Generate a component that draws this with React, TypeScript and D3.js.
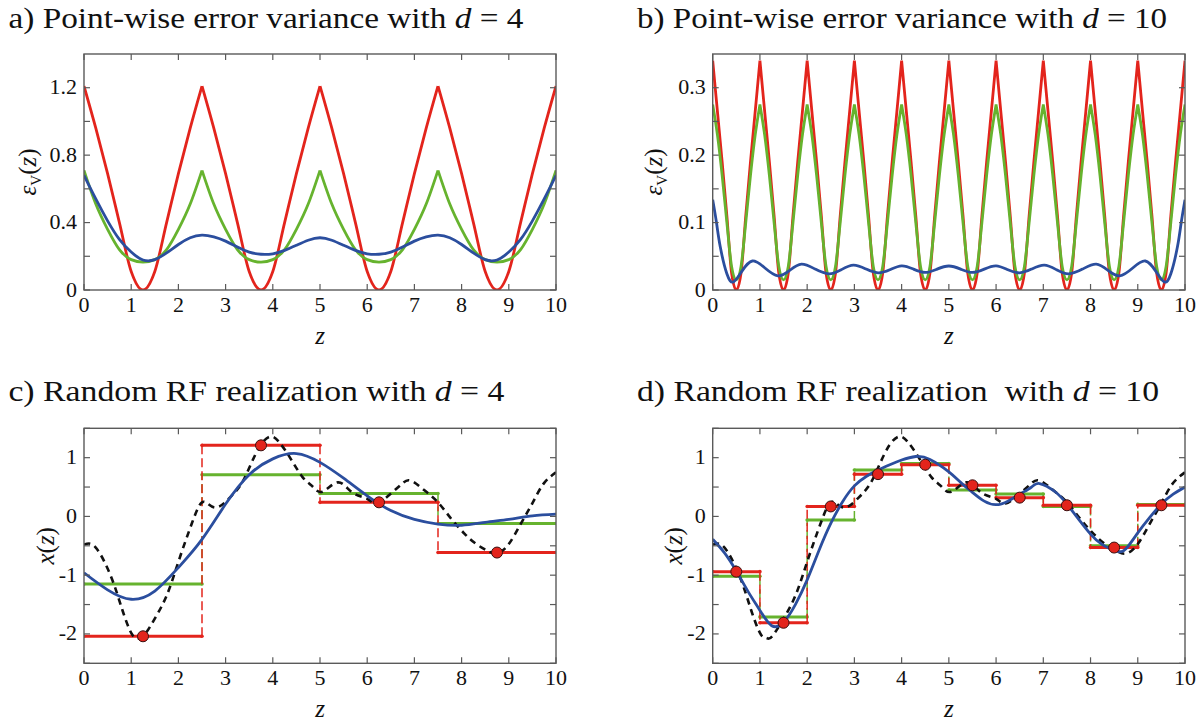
import React from "react";
import * as d3 from "d3";

// ---------------- shared ----------------
const zTicks = [0, 1, 2, 3, 4, 5, 6, 7, 8, 9, 10];
const zTickText = ["0", "1", "2", "3", "4", "5", "6", "7", "8", "9", "10"];

// ---------------- panel a : variance, d = 4 ----------------
const yTicksA = [0, 0.2, 0.4, 0.6, 0.8, 1.0, 1.2];
const yLabelValsA = [0, 0.4, 0.8, 1.2];
const yLabelTextA = ["0", "0.4", "0.8", "1.2"];
const cellEdgesA = [0, 2.5, 5, 7.5, 10];
const sampleStepA = 0.25;
const redA = [
  1.21, 0.96, 0.69, 0.4, 0.11, 0.0, 0.11, 0.4, 0.69, 0.96,
  1.21, 0.96, 0.69, 0.4, 0.11, 0.0, 0.11, 0.4, 0.69, 0.96,
  1.21, 0.96, 0.69, 0.4, 0.11, 0.0, 0.11, 0.4, 0.69, 0.96,
  1.21, 0.96, 0.69, 0.4, 0.11, 0.0, 0.11, 0.4, 0.69, 0.96,
  1.21,
];
const greenA = [
  0.71, 0.51, 0.36, 0.24, 0.18, 0.165, 0.18, 0.24, 0.36, 0.51,
  0.71, 0.51, 0.36, 0.24, 0.18, 0.165, 0.18, 0.24, 0.36, 0.51,
  0.71, 0.51, 0.36, 0.24, 0.18, 0.165, 0.18, 0.24, 0.36, 0.51,
  0.71, 0.51, 0.36, 0.24, 0.18, 0.165, 0.18, 0.24, 0.36, 0.51,
  0.71,
];
const blueA = [
  0.68, 0.54, 0.41, 0.3, 0.225, 0.178, 0.18, 0.22, 0.27, 0.31,
  0.325, 0.315, 0.29, 0.255, 0.225, 0.212, 0.215, 0.235, 0.265, 0.295,
  0.31, 0.295, 0.265, 0.235, 0.215, 0.212, 0.225, 0.255, 0.29, 0.315,
  0.325, 0.31, 0.27, 0.22, 0.18, 0.178, 0.225, 0.3, 0.41, 0.54,
  0.68,
];

// ---------------- panel b : variance, d = 10 ----------------
const yTicksB = [0, 0.05, 0.1, 0.15, 0.2, 0.25, 0.3];
const yLabelValsB = [0, 0.1, 0.2, 0.3];
const yLabelTextB = ["0", "0.1", "0.2", "0.3"];
const cellEdgesB = [0, 1, 2, 3, 4, 5, 6, 7, 8, 9, 10];
const sampleStepB = 0.1;
const redB = [
  0.34, 0.265, 0.19, 0.11, 0.025, 0, 0.025, 0.11, 0.19, 0.265,
  0.34, 0.265, 0.19, 0.11, 0.025, 0, 0.025, 0.11, 0.19, 0.265,
  0.34, 0.265, 0.19, 0.11, 0.025, 0, 0.025, 0.11, 0.19, 0.265,
  0.34, 0.265, 0.19, 0.11, 0.025, 0, 0.025, 0.11, 0.19, 0.265,
  0.34, 0.265, 0.19, 0.11, 0.025, 0, 0.025, 0.11, 0.19, 0.265,
  0.34, 0.265, 0.19, 0.11, 0.025, 0, 0.025, 0.11, 0.19, 0.265,
  0.34, 0.265, 0.19, 0.11, 0.025, 0, 0.025, 0.11, 0.19, 0.265,
  0.34, 0.265, 0.19, 0.11, 0.025, 0, 0.025, 0.11, 0.19, 0.265,
  0.34, 0.265, 0.19, 0.11, 0.025, 0, 0.025, 0.11, 0.19, 0.265,
  0.34, 0.265, 0.19, 0.11, 0.025, 0, 0.025, 0.11, 0.19, 0.265,
  0.34,
];
const greenB = [
  0.275, 0.23, 0.17, 0.1, 0.035, 0.015, 0.035, 0.1, 0.17, 0.23,
  0.275, 0.23, 0.17, 0.1, 0.035, 0.015, 0.035, 0.1, 0.17, 0.23,
  0.275, 0.23, 0.17, 0.1, 0.035, 0.015, 0.035, 0.1, 0.17, 0.23,
  0.275, 0.23, 0.17, 0.1, 0.035, 0.015, 0.035, 0.1, 0.17, 0.23,
  0.275, 0.23, 0.17, 0.1, 0.035, 0.015, 0.035, 0.1, 0.17, 0.23,
  0.275, 0.23, 0.17, 0.1, 0.035, 0.015, 0.035, 0.1, 0.17, 0.23,
  0.275, 0.23, 0.17, 0.1, 0.035, 0.015, 0.035, 0.1, 0.17, 0.23,
  0.275, 0.23, 0.17, 0.1, 0.035, 0.015, 0.035, 0.1, 0.17, 0.23,
  0.275, 0.23, 0.17, 0.1, 0.035, 0.015, 0.035, 0.1, 0.17, 0.23,
  0.275, 0.23, 0.17, 0.1, 0.035, 0.015, 0.035, 0.1, 0.17, 0.23,
  0.275,
];
const blueBZ = [
  0, 0.08, 0.16, 0.3, 0.44, 0.62, 0.84, 1.1, 1.38, 1.63,
  1.88, 2.17, 2.46, 2.72, 2.98, 3.25, 3.5, 3.75, 4.0, 4.25,
  4.5, 4.75, 5.0, 5.25, 5.5, 5.75, 6.0, 6.25, 6.5, 6.75,
  7.02, 7.28, 7.54, 7.83, 8.12, 8.37, 8.62, 8.9, 9.16, 9.38,
  9.56, 9.7, 9.84, 9.92, 10,
];
const blueBV = [
  0.134, 0.1, 0.064, 0.024, 0.012, 0.028, 0.043, 0.033, 0.021, 0.029,
  0.0385, 0.031, 0.024, 0.03, 0.0368, 0.031, 0.0255, 0.03, 0.0358, 0.031,
  0.026, 0.031, 0.0356, 0.031, 0.026, 0.031, 0.0358, 0.03, 0.0255, 0.031,
  0.0368, 0.03, 0.024, 0.031, 0.0385, 0.029, 0.021, 0.033, 0.043, 0.028,
  0.012, 0.024, 0.064, 0.1, 0.134,
];

// ---------------- panels c, d : realization ----------------
const yTicksC = [-2.5, -2, -1.5, -1, -0.5, 0, 0.5, 1, 1.5];
const yLabelValsC = [-2, -1, 0, 1];
const yLabelTextC = ["-2", "-1", "0", "1"];

// true random field (black dashed), shared by c and d
const trueZ = [
  0, 0.25, 0.58, 0.82, 1.02, 1.14, 1.26, 1.55, 1.79, 2.03,
  2.28, 2.44, 2.58, 2.8, 3.09, 3.33, 3.53, 3.74, 3.95, 4.14,
  4.38, 4.63, 4.83, 5.05, 5.38, 5.68, 6.0, 6.2, 6.49, 6.73,
  6.92, 7.22, 7.5, 7.79, 8.07, 8.31, 8.56, 8.76, 9.0, 9.25,
  9.49, 9.73, 10,
];
const trueX = [
  -0.48, -0.53, -1.04, -1.61, -2.01, -2.07, -2.04, -1.67, -1.27, -0.7,
  -0.13, 0.18, 0.24, 0.15, 0.32, 0.55, 0.88, 1.21, 1.36, 1.26,
  0.98, 0.67, 0.52, 0.42, 0.58, 0.41, 0.3, 0.22, 0.38, 0.55,
  0.61, 0.44, 0.24, -0.05, -0.3, -0.47, -0.59, -0.63, -0.47, -0.13,
  0.21, 0.55, 0.75,
];

// panel c (d = 4)
const cellEdgesC = [0, 2.5, 5, 7.5, 10];
const redC = [-2.04, 1.21, 0.24, -0.615];
const greenC = [-1.15, 0.71, 0.39, -0.12];
const blueCZ = [0, 0.5, 1, 1.5, 2, 2.5, 3, 3.5, 4, 4.5, 5, 5.5, 6, 6.5, 7, 7.5, 8, 8.5, 9, 9.5, 10];
const blueCV = [
  -0.96, -1.25, -1.41, -1.27, -0.87, -0.39, 0.21, 0.71, 0.98, 1.07,
  0.92, 0.65, 0.35, 0.1, -0.05, -0.13, -0.15, -0.1, -0.05, 0.01, 0.04,
];

// panel d (d = 10)
const cellEdgesD = [0, 1, 2, 3, 4, 5, 6, 7, 8, 9, 10];
const redD = [-0.94, -1.81, 0.17, 0.72, 0.88, 0.53, 0.32, 0.19, -0.53, 0.19];
const greenD = [-1.02, -1.71, -0.06, 0.79, 0.9, 0.45, 0.38, 0.17, -0.5, 0.205];
const blueDZ = [
  0, 0.25, 0.5, 0.75, 1.0, 1.25, 1.5, 1.75, 2.0, 2.25,
  2.5, 2.75, 3.0, 3.25, 3.5, 3.75, 4.0, 4.3, 4.6, 5.0,
  5.25, 5.5, 5.75, 6.0, 6.25, 6.5, 6.75, 6.92, 7.25, 7.5,
  7.75, 8.0, 8.25, 8.55, 8.75, 9.0, 9.25, 9.5, 9.75, 10,
];
const blueDV = [
  -0.39, -0.62, -0.93, -1.28, -1.6, -1.86, -1.8, -1.5, -1.08, -0.58,
  -0.12, 0.25, 0.52, 0.68, 0.79, 0.88, 0.96, 1.02, 0.97, 0.76,
  0.58, 0.41, 0.26, 0.2, 0.26, 0.38, 0.5, 0.56, 0.42, 0.21,
  -0.05, -0.3, -0.48, -0.59, -0.55, -0.28, -0.02, 0.21, 0.38, 0.5,
];

// ---------------- styling ----------------
const FONT = '"Liberation Serif", "Times New Roman", serif';
const AXIS = "#5a5a5a";
const RED = "#e3241c";
const GREEN = "#66b32e";
const BLUE = "#2b4e9e";
const TICK = 6;
const TXT: React.CSSProperties = { fontFamily: FONT };

type Scale = d3.ScaleLinear<number, number>;

interface PanelSpec {
  id: string;
  left: number;
  right: number;
  top: number;
  bottom: number;
  yDomain: [number, number];
  yTicks: number[];
  yLabelVals: number[];
  yLabelText: string[];
  yTitleX: number;
  yTitle: "eps" | "x";
  title: React.ReactNode;
  titleX: number;
  titleY: number;
  titleW: number;
}

function zip(zs: number[], vs: number[]): [number, number][] {
  return zs.map((z, i) => [z, vs[i]] as [number, number]);
}

function cellwisePath(values: number[], step: number, edges: number[], x: Scale, y: Scale) {
  const line = d3
    .line<[number, number]>()
    .x((d) => x(d[0]))
    .y((d) => y(d[1]))
    .curve(d3.curveMonotoneX);
  const pts = values.map((v, i) => [i * step, v] as [number, number]);
  let out = "";
  for (let i = 0; i < edges.length - 1; i++) {
    const seg = pts.filter((p) => p[0] >= edges[i] - 1e-6 && p[0] <= edges[i + 1] + 1e-6);
    out += line(seg) || "";
  }
  return out;
}

function smoothPath(zs: number[], vs: number[], x: Scale, y: Scale) {
  return (
    d3
      .line<[number, number]>()
      .x((d) => x(d[0]))
      .y((d) => y(d[1]))
      .curve(d3.curveNatural)(zip(zs, vs)) || ""
  );
}

function Steps({ edges, levels, color, x, y }: { edges: number[]; levels: number[]; color: string; x: Scale; y: Scale }) {
  return (
    <g>
      {levels.slice(1).map((lv, i) => (
        <line
          key={"v" + i}
          x1={x(edges[i + 1])}
          x2={x(edges[i + 1])}
          y1={y(levels[i])}
          y2={y(lv)}
          stroke={color}
          strokeWidth={1.5}
          strokeDasharray="9,4"
        />
      ))}
      {levels.map((lv, i) => (
        <g key={"h" + i}>
          <line x1={x(edges[i])} x2={x(edges[i + 1])} y1={y(lv)} y2={y(lv)} stroke={color} strokeWidth={3} />
          <circle cx={x(edges[i])} cy={y(lv)} r={1.8} fill={color} />
          <circle cx={x(edges[i + 1])} cy={y(lv)} r={1.8} fill={color} />
        </g>
      ))}
    </g>
  );
}

function Panel({ s, children }: { s: PanelSpec; children: (x: Scale, y: Scale) => React.ReactNode }) {
  const x = d3.scaleLinear().domain([0, 10]).range([s.left, s.right]);
  const y = d3.scaleLinear().domain(s.yDomain).range([s.bottom, s.top]);
  const cy = (s.top + s.bottom) / 2;
  return (
    <g>
      <text x={s.titleX} y={s.titleY} style={TXT} fontSize={29} fill="#111" textLength={s.titleW} lengthAdjust="spacingAndGlyphs">
        {s.title}
      </text>
      <defs>
        <clipPath id={"clip-" + s.id}>
          <rect x={s.left} y={s.top} width={s.right - s.left} height={s.bottom - s.top} />
        </clipPath>
      </defs>
      <g clipPath={`url(#clip-${s.id})`}>{children(x, y)}</g>
      <rect x={s.left} y={s.top} width={s.right - s.left} height={s.bottom - s.top} fill="none" stroke={AXIS} strokeWidth={1.4} />
      {zTicks.map((t, i) => (
        <g key={"xt" + i}>
          <line x1={x(t)} x2={x(t)} y1={s.bottom} y2={s.bottom - TICK} stroke={AXIS} strokeWidth={1.2} />
          <line x1={x(t)} x2={x(t)} y1={s.top} y2={s.top + TICK} stroke={AXIS} strokeWidth={1.2} />
          <text x={x(t)} y={s.bottom + 21.5} textAnchor="middle" style={TXT} fontSize={22} fill="#111">
            {zTickText[i]}
          </text>
        </g>
      ))}
      {s.yTicks.map((t, i) => (
        <g key={"yt" + i}>
          <line x1={s.left} x2={s.left + TICK} y1={y(t)} y2={y(t)} stroke={AXIS} strokeWidth={1.2} />
          <line x1={s.right} x2={s.right - TICK} y1={y(t)} y2={y(t)} stroke={AXIS} strokeWidth={1.2} />
        </g>
      ))}
      {s.yLabelVals.map((t, i) => (
        <text key={"yl" + i} x={s.left - 7} y={y(t) + 6.5} textAnchor="end" style={TXT} fontSize={22} fill="#111">
          {s.yLabelText[i]}
        </text>
      ))}
      <text x={(s.left + s.right) / 2} y={s.bottom + 54} textAnchor="middle" style={TXT} fontSize={25} fontStyle="italic" fill="#111">
        z
      </text>
      <text transform={`translate(${s.yTitleX},${cy}) rotate(-90)`} textAnchor="middle" style={TXT} fontSize={25} fill="#111">
        {s.yTitle === "eps" ? (
          <>
            <tspan fontStyle="italic">ε</tspan>
            <tspan fontSize={15} dy={5}>V</tspan>
            <tspan dy={-5}>(</tspan>
            <tspan fontStyle="italic">z</tspan>
            <tspan>)</tspan>
          </>
        ) : (
          <>
            <tspan fontStyle="italic">x</tspan>
            <tspan>(</tspan>
            <tspan fontStyle="italic">z</tspan>
            <tspan>)</tspan>
          </>
        )}
      </text>
    </g>
  );
}

const TOP = { top: 54, bottom: 290 };
const BOT = { top: 428.3, bottom: 663.3 };
const LEFT = { left: 84, right: 556 };
const RIGHT = { left: 712.7, right: 1185 };

function title(prefix: string, value: string) {
  return (
    <>
      <tspan>{prefix}</tspan>
      <tspan fontStyle="italic">d</tspan>
      <tspan> = {value}</tspan>
    </>
  );
}

function RealizationContent({
  x, y, edges, red, green, bz, bv,
}: { x: Scale; y: Scale; edges: number[]; red: number[]; green: number[]; bz: number[]; bv: number[] }) {
  const centers = red.map((_, i) => (edges[i] + edges[i + 1]) / 2);
  return (
    <g>
      <Steps edges={edges} levels={green} color={GREEN} x={x} y={y} />
      <Steps edges={edges} levels={red} color={RED} x={x} y={y} />
      <path d={smoothPath(trueZ, trueX, x, y)} fill="none" stroke="#111" strokeWidth={2.6} strokeDasharray="6.5,5" />
      <path d={smoothPath(bz, bv, x, y)} fill="none" stroke={BLUE} strokeWidth={2.8} />
      {centers.map((c, i) => (
        <circle key={i} cx={x(c)} cy={y(red[i])} r={5.5} fill={RED} stroke="#3a1010" strokeWidth={1} />
      ))}
    </g>
  );
}

export default function App() {
  const specA: PanelSpec = {
    id: "a", ...LEFT, ...TOP, yDomain: [0, 1.4], yTicks: yTicksA, yLabelVals: yLabelValsA, yLabelText: yLabelTextA,
    yTitleX: 36, yTitle: "eps", title: title("a) Point-wise error variance with ", "4"), titleX: 8.5, titleY: 28, titleW: 515,
  };
  const specB: PanelSpec = {
    id: "b", ...RIGHT, ...TOP, yDomain: [0, 0.35], yTicks: yTicksB, yLabelVals: yLabelValsB, yLabelText: yLabelTextB,
    yTitleX: 662, yTitle: "eps", title: title("b) Point-wise error variance with ", "10"), titleX: 637, titleY: 28, titleW: 530,
  };
  const specC: PanelSpec = {
    id: "c", ...LEFT, ...BOT, yDomain: [-2.5, 1.5], yTicks: yTicksC, yLabelVals: yLabelValsC, yLabelText: yLabelTextC,
    yTitleX: 54, yTitle: "x", title: title("c) Random RF realization with ", "4"), titleX: 8.4, titleY: 400.5, titleW: 496,
  };
  const specD: PanelSpec = {
    id: "d", ...RIGHT, ...BOT, yDomain: [-2.5, 1.5], yTicks: yTicksC, yLabelVals: yLabelValsC, yLabelText: yLabelTextC,
    yTitleX: 682, yTitle: "x", title: title("d) Random RF realization\u00a0 with ", "10"), titleX: 637, titleY: 400.5, titleW: 522,
  };

  return (
    <svg width={1202} height={722} style={{ position: "absolute", left: 0, top: 0, background: "#fff" }}>
      <Panel s={specA}>
        {(x, y) => (
          <g fill="none" strokeWidth={2.8} strokeLinejoin="round">
            <path d={cellwisePath(redA, sampleStepA, cellEdgesA, x, y)} stroke={RED} />
            <path d={cellwisePath(greenA, sampleStepA, cellEdgesA, x, y)} stroke={GREEN} />
            <path d={smoothPath(blueA.map((_, i) => i * sampleStepA), blueA, x, y)} stroke={BLUE} />
          </g>
        )}
      </Panel>
      <Panel s={specB}>
        {(x, y) => (
          <g fill="none" strokeWidth={2.8} strokeLinejoin="round">
            <path d={cellwisePath(redB, sampleStepB, cellEdgesB, x, y)} stroke={RED} />
            <path d={cellwisePath(greenB, sampleStepB, cellEdgesB, x, y)} stroke={GREEN} />
            <path d={smoothPath(blueBZ, blueBV, x, y)} stroke={BLUE} />
          </g>
        )}
      </Panel>
      <Panel s={specC}>
        {(x, y) => <RealizationContent x={x} y={y} edges={cellEdgesC} red={redC} green={greenC} bz={blueCZ} bv={blueCV} />}
      </Panel>
      <Panel s={specD}>
        {(x, y) => <RealizationContent x={x} y={y} edges={cellEdgesD} red={redD} green={greenD} bz={blueDZ} bv={blueDV} />}
      </Panel>
    </svg>
  );
}
